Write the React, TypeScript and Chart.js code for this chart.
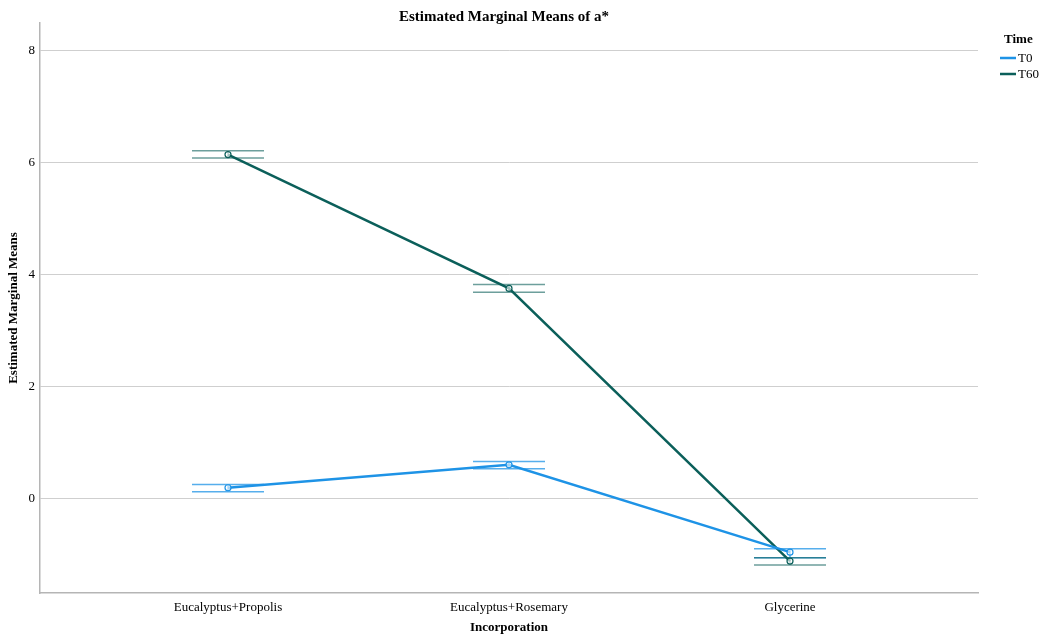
import React, { useEffect, useRef } from "react";
import { Chart, registerables } from "chart.js";

Chart.register(...registerables);

const categories = ["Eucalyptus+Propolis", "Eucalyptus+Rosemary", "Glycerine"];
const seriesNames = ["T0", "T60"];
const t0Means = [0.19, 0.6, -0.96];
const t0Lower = [0.12, 0.53, -1.06];
const t0Upper = [0.25, 0.66, -0.9];
const t60Means = [6.14, 3.75, -1.12];
const t60Lower = [6.08, 3.68, -1.19];
const t60Upper = [6.21, 3.82, -1.06];
const yTicks = [0, 2, 4, 6, 8];
const seriesColors = ["#1e93e6", "#0b5f5a"];
const capColors = ["rgba(30,147,230,0.75)", "rgba(11,95,90,0.6)"];

const FONT = "'Liberation Serif', 'Times New Roman', serif";

export default function App() {
  const ref = useRef<HTMLCanvasElement | null>(null);
  useEffect(() => {
    if (!ref.current) return;
    const lowers = [t0Lower, t60Lower];
    const uppers = [t0Upper, t60Upper];

    const errPlugin = {
      id: "errCaps",
      beforeDatasetsDraw(chart: any) {
        const ctx = chart.ctx;
        const xs = chart.scales.x;
        const ys = chart.scales.y;
        ctx.save();
        for (let d = 0; d < 2; d++) {
          ctx.strokeStyle = capColors[d];
          ctx.lineWidth = 1.5;
          for (let i = 0; i < categories.length; i++) {
            const px = xs.getPixelForValue(i);
            const lo = ys.getPixelForValue(lowers[d][i]);
            const hi = ys.getPixelForValue(uppers[d][i]);
            ctx.beginPath();
            ctx.moveTo(px - 36, lo);
            ctx.lineTo(px + 36, lo);
            ctx.moveTo(px - 36, hi);
            ctx.lineTo(px + 36, hi);
            ctx.moveTo(px, lo);
            ctx.lineTo(px, hi);
            ctx.stroke();
          }
        }
        ctx.restore();
      },
      afterDraw(chart: any) {
        const ctx = chart.ctx;
        const ca = chart.chartArea;
        ctx.save();
        ctx.fillStyle = "#000";
        ctx.textAlign = "center";
        ctx.textBaseline = "middle";
        ctx.font = `bold 15px ${FONT}`;
        ctx.fillText("Estimated Marginal Means of a*", 504, 17);
        ctx.font = `bold 13px ${FONT}`;
        ctx.fillText("Incorporation", (ca.left + ca.right) / 2, 628);
        ctx.save();
        ctx.translate(14, (ca.top + ca.bottom) / 2);
        ctx.rotate(-Math.PI / 2);
        ctx.fillText("Estimated Marginal Means", 0, 0);
        ctx.restore();
        // legend
        ctx.textAlign = "left";
        ctx.font = `bold 13px ${FONT}`;
        ctx.fillText("Time", 1004, 40);
        ctx.font = `13px ${FONT}`;
        const ly = [58, 74];
        for (let d = 0; d < 2; d++) {
          ctx.strokeStyle = seriesColors[d];
          ctx.lineWidth = 2.5;
          ctx.beginPath();
          ctx.moveTo(1000, ly[d]);
          ctx.lineTo(1016, ly[d]);
          ctx.stroke();
          ctx.fillText(seriesNames[d], 1018, ly[d] + 1);
        }
        ctx.restore();
      },
    };

    const mk = (vals: number[], d: number) => ({
      label: seriesNames[d],
      data: vals.map((v, i) => ({ x: i, y: v })),
      borderColor: seriesColors[d],
      backgroundColor: seriesColors[d],
      borderWidth: 2.5,
      pointRadius: 3,
      pointBorderWidth: 1.2,
      pointBackgroundColor: "rgba(255,255,255,0.6)",
      pointBorderColor: seriesColors[d],
      fill: false,
      tension: 0,
    });

    const chart = new Chart(ref.current, {
      type: "line",
      data: { datasets: [mk(t0Means, 0), mk(t60Means, 1)] },
      plugins: [errPlugin],
      options: {
        animation: false,
        responsive: false,
        maintainAspectRatio: false,
        layout: { padding: { top: 23, right: 62, left: 0, bottom: 0 } },
        plugins: { legend: { display: false }, title: { display: false }, tooltip: { enabled: false } },
        scales: {
          x: {
            type: "linear",
            min: -0.669,
            max: 2.669,
            afterBuildTicks: (s: any) => {
              s.ticks = categories.map((_, i) => ({ value: i }));
            },
            afterFit: (s: any) => {
              s.height = 46;
            },
            grid: { display: false, drawTicks: false },
            border: { display: true, color: "#b5b5b5", width: 1.5 },
            ticks: {
              padding: 7,
              color: "#000",
              font: { family: FONT, size: 13 },
              callback: (v: any) => categories[Math.round(v)] ?? "",
              maxRotation: 0,
              autoSkip: false,
            },
          },
          y: {
            type: "linear",
            min: -1.69,
            max: 8.49,
            afterBuildTicks: (s: any) => {
              s.ticks = yTicks.map((v) => ({ value: v }));
            },
            afterFit: (s: any) => {
              s.width = 40;
            },
            grid: { color: "#cfcfcf", lineWidth: 1, drawTicks: false },
            border: { display: true, color: "#b5b5b5", width: 1.5 },
            ticks: {
              padding: 5,
              color: "#000",
              font: { family: FONT, size: 13 },
            },
          },
        },
      },
    });
    return () => chart.destroy();
  }, []);

  return (
    <div style={{ position: "absolute", left: 0, top: 0, width: 1040, height: 639, background: "#fff" }}>
      <canvas ref={ref} width={1040} height={639} style={{ width: 1040, height: 639 }} />
    </div>
  );
}
